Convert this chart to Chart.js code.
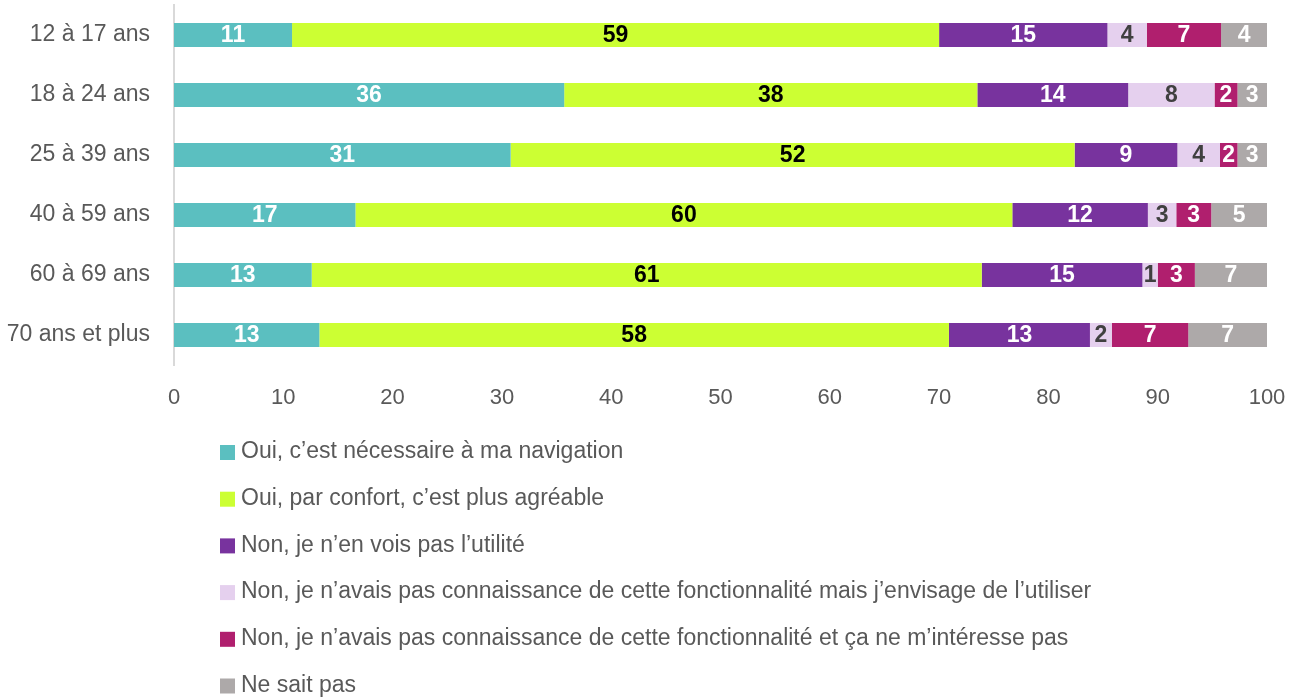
<!DOCTYPE html>
<html lang="fr">
<head>
<meta charset="utf-8">
<title>Utilisation selon l'âge</title>
<script src="https://cdn.jsdelivr.net/npm/chart.js@4/dist/chart.umd.min.js"></script>
<style>
  html, body { margin: 0; padding: 0; background: #fff; }
  #wrap { width: 1300px; height: 700px; position: relative; }
</style>
</head>
<body>
<div id="wrap"><canvas id="chart" width="1300" height="700"></canvas></div>
<script>
// Age groups (one bar each)
const ageGroups = ['12 à 17 ans', '18 à 24 ans', '25 à 39 ans', '40 à 59 ans', '60 à 69 ans', '70 ans et plus'];

// Answers, in stacking order
const answerLabels = [
    'Oui, c\u2019est nécessaire à ma navigation',
    'Oui, par confort, c\u2019est plus agréable',
    'Non, je n\u2019en vois pas l\u2019utilité',
    'Non, je n\u2019avais pas connaissance de cette fonctionnalité mais j\u2019envisage de l\u2019utiliser',
    'Non, je n\u2019avais pas connaissance de cette fonctionnalité et ça ne m\u2019intéresse pas',
    'Ne sait pas'
];

// Percentages per age group
const necessaire   = [10.8, 35.7, 30.8, 16.6, 12.6, 13.3];
const confort      = [59.2, 37.8, 51.6, 60.1, 61.3, 57.6];
const pasUtilite   = [15.4, 13.8,  9.4, 12.4, 14.7, 12.9];
const envisage     = [ 3.6,  7.9,  3.9,  2.6,  1.4,  2.0];
const pasInteresse = [ 6.8,  2.1,  1.6,  3.2,  3.4,  7.0];
const neSaitPas    = [ 4.2,  2.7,  2.7,  5.1,  6.6,  7.2];

const xTicks = [0, 10, 20, 30, 40, 50, 60, 70, 80, 90, 100];

const colors = ['#5bbfc0', '#ccff33', '#78339e', '#e5d0ee', '#b01f6e', '#ada9a9'];
const labelColors = ['#ffffff', '#000000', '#ffffff', '#404040', '#ffffff', '#ffffff'];
const FONT = '"Liberation Sans", Arial, sans-serif';

const series = [necessaire, confort, pasUtilite, envisage, pasInteresse, neSaitPas];

// value labels centred in each segment
const segmentLabels = {
    id: 'segmentLabels',
    afterDatasetsDraw(chart) {
        const ctx = chart.ctx;
        ctx.save();
        ctx.font = 'bold 23px ' + FONT;
        ctx.textAlign = 'center';
        ctx.textBaseline = 'middle';
        chart.data.datasets.forEach((ds, i) => {
            const meta = chart.getDatasetMeta(i);
            ctx.fillStyle = labelColors[i];
            meta.data.forEach((bar, j) => {
                const v = ds.data[j];
                ctx.fillText(String(Math.round(v)), (bar.x + bar.base) / 2, bar.y + 1);
            });
        });
        ctx.restore();
    }
};

// vertical legend under the plot
const stackedLegend = {
    id: 'stackedLegend',
    afterDraw(chart) {
        const ctx = chart.ctx;
        ctx.save();
        ctx.font = '23px ' + FONT;
        ctx.textBaseline = 'middle';
        ctx.textAlign = 'left';
        chart.data.datasets.forEach((ds, i) => {
            const y = 452 + i * 46.7;
            ctx.fillStyle = ds.backgroundColor;
            ctx.fillRect(220, y - 7, 15, 15);
            ctx.fillStyle = '#595959';
            ctx.fillText(ds.label, 241, y);
        });
        ctx.restore();
    }
};

new Chart(document.getElementById('chart'), {
    type: 'bar',
    data: {
        labels: ageGroups,
        datasets: series.map((data, i) => ({
            label: answerLabels[i],
            data: data,
            backgroundColor: colors[i],
            borderWidth: 0,
            barPercentage: 0.4,
            categoryPercentage: 1
        }))
    },
    options: {
        indexAxis: 'y',
        responsive: false,
        maintainAspectRatio: false,
        animation: false,
        devicePixelRatio: 1,
        layout: { padding: { top: 5, right: 33, left: 0, bottom: 0 } },
        plugins: {
            legend: { display: false },
            tooltip: { enabled: false }
        },
        scales: {
            x: {
                stacked: true,
                min: 0,
                max: 100,
                afterBuildTicks(scale) {
                    scale.ticks = xTicks.map(v => ({ value: v }));
                },
                afterFit(scale) {
                    // room for the legend below; no extra edge padding
                    scale.height = 335;
                    scale.paddingLeft = 0;
                    scale.paddingRight = 0;
                },
                grid: { display: false, drawTicks: false },
                border: { display: false },
                ticks: {
                    color: '#595959',
                    font: { family: FONT, size: 22 },
                    padding: 20,
                    maxRotation: 0
                }
            },
            y: {
                stacked: true,
                afterFit(scale) {
                    scale.width = 174;
                    scale.paddingTop = 0;
                    scale.paddingBottom = 0;
                },
                grid: { display: false, drawTicks: false },
                border: { display: true, color: '#d9d9d9', width: 2 },
                ticks: {
                    color: '#595959',
                    font: { family: FONT, size: 23 },
                    padding: 24
                }
            }
        }
    },
    plugins: [segmentLabels, stackedLegend]
});
</script>
</body>
</html>
